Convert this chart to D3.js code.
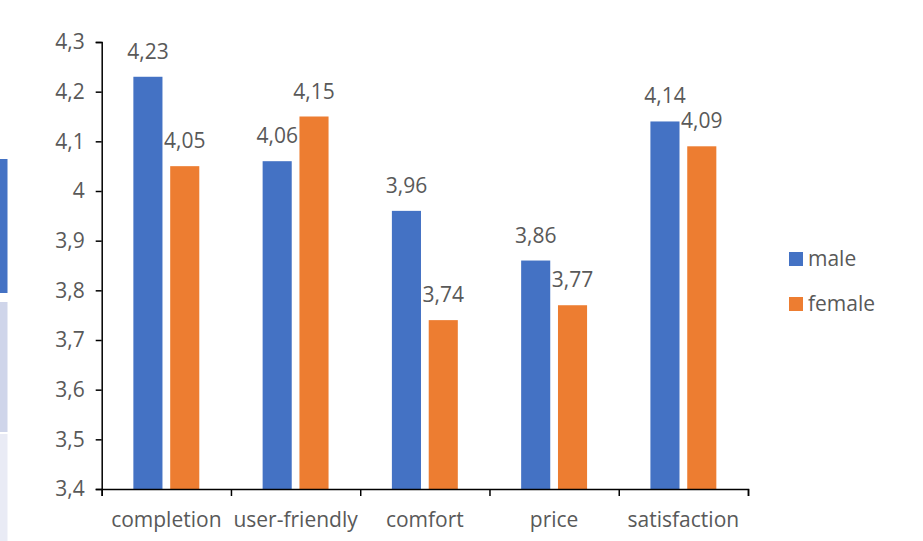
<!DOCTYPE html>
<html>
<head>
<meta charset="utf-8">
<script src="https://cdn.jsdelivr.net/npm/d3@7"></script>
<style>
  body { margin: 0; background: #fff; }
  svg text { font-family: "Open Sans", sans-serif; fill: #595959; }
</style>
</head>
<body>
<script>
// categories and the two series
var categories = ["completion", "user-friendly", "comfort", "price", "satisfaction"]
var series = ["male", "female"]
var male = [4.23, 4.06, 3.96, 3.86, 4.14]
var female = [4.05, 4.15, 3.74, 3.77, 4.09]
var yTicks = [3.4, 3.5, 3.6, 3.7, 3.8, 3.9, 4.0, 4.1, 4.2, 4.3]

var w = 923;
var h = 541;
var plot = {left: 101.7, right: 748, top: 42, bottom: 489}
var colors = {male: "#4472C4", female: "#ED7D31"}
var fs = "21px"

var svg = d3.select("body")
            .append("svg")
            .attr("width", w)
            .attr("height", h);

// cropped strips on the left edge of the screenshot
var strips = [[159, 293, "#4472C4"], [302, 432, "#CFD5EA"], [434, 541, "#E9EBF5"]]
svg.selectAll(".strip")
   .data(strips)
   .enter()
   .append("rect")
   .attr("x", 0)
   .attr("width", 7.5)
   .attr("y", function(d) { return d[0] })
   .attr("height", function(d) { return d[1] - d[0] })
   .attr("fill", function(d) { return d[2] });

var rows = categories.map(function(c, i) {
  return {cat: c, male: male[i], female: female[i]}
})

// scales
var x = d3.scaleBand()
          .domain(categories)
          .range([plot.left, plot.right])
          .paddingInner(0.49)
          .paddingOuter(0.245);

var xInner = d3.scaleBand()
               .domain(series)
               .range([0, x.bandwidth()])
               .paddingInner(0.21);

var y = d3.scaleLinear()
          .domain([3.4, 4.3])
          .range([plot.bottom, plot.top]);

function comma(v) {
  return d3.format(".2~f")(v).replace(".", ",")
}

// bars
var groups = svg.selectAll(".cat")
                .data(rows)
                .enter()
                .append("g")
                .attr("class", "cat")
                .attr("transform", function(d) { return "translate(" + x(d.cat) + ",0)" });

groups.selectAll("rect")
      .data(function(d) { return series.map(function(s) { return {s: s, v: d[s]} }) })
      .enter()
      .append("rect")
      .attr("x", function(d) { return xInner(d.s) })
      .attr("y", function(d) { return y(d.v) })
      .attr("width", xInner.bandwidth())
      .attr("height", function(d) { return y(3.4) - y(d.v) })
      .attr("fill", function(d) { return colors[d.s] });

// value labels
groups.selectAll(".val")
      .data(function(d) { return series.map(function(s) { return {s: s, v: d[s]} }) })
      .enter()
      .append("text")
      .attr("class", "val")
      .attr("x", function(d) { return xInner(d.s) + xInner.bandwidth() / 2 })
      .attr("y", function(d) { return y(d.v) - 18 })
      .attr("text-anchor", "middle")
      .style("font-size", fs)
      .text(function(d) { return comma(d.v) });

// y axis
var yAxis = svg.append("g")
               .attr("transform", "translate(" + plot.left + ",0)")
               .call(d3.axisLeft(y)
                       .tickValues(yTicks)
                       .tickSize(6)
                       .tickPadding(11)
                       .tickFormat(comma));
yAxis.selectAll("text").style("font-size", fs).attr("fill", "#595959");

// x axis line with ticks on category boundaries
var xEdges = d3.scaleLinear().domain([0, categories.length]).range([plot.left, plot.right]);
var xAxis = svg.append("g")
               .attr("transform", "translate(0," + plot.bottom + ")")
               .call(d3.axisBottom(xEdges)
                       .ticks(categories.length)
                       .tickSize(7)
                       .tickSizeOuter(7)
                       .tickFormat(""));

var xLabels = svg.append("g")
                 .attr("transform", "translate(0," + plot.bottom + ")")
                 .call(d3.axisBottom(x).tickSize(0).tickPadding(23));
xLabels.select(".domain").remove();
xLabels.selectAll("text").style("font-size", fs).attr("fill", "#595959");

svg.selectAll(".domain").attr("stroke", "#000").attr("stroke-width", 1.5);
svg.selectAll(".tick line").attr("stroke", "#000").attr("stroke-width", 1.5);

// legend
var legend = svg.append("g")
                .attr("transform", "translate(789,252)");
var items = legend.selectAll("g")
                  .data(series)
                  .enter()
                  .append("g")
                  .attr("transform", function(d, i) { return "translate(0," + (i * 45) + ")" });
items.append("rect")
     .attr("width", 14)
     .attr("height", 14)
     .attr("fill", function(d) { return colors[d] });
items.append("text")
     .attr("x", 19)
     .attr("y", 14)
     .style("font-size", fs)
     .text(function(d) { return d });
</script>
</body>
</html>
